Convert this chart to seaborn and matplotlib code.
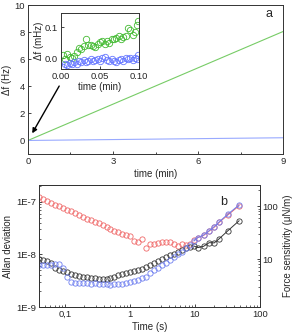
import matplotlib
matplotlib.use("Agg")
import matplotlib.pyplot as plt
from matplotlib.ticker import FixedLocator, NullFormatter, LogLocator
import seaborn as sns
import numpy as np
import pandas as pd

# panel a: frequency shift vs time (min)
drift_time = [0.0, 9.0]
drift_green = [0.0, 8.05]
drift_blue = [0.0, 0.2]

# inset: first 0.1 min, in mHz
inset_t = [0.002, 0.005, 0.008, 0.011, 0.014, 0.017, 0.020, 0.023, 0.026, 0.029,
           0.032, 0.035, 0.038, 0.041, 0.044, 0.047, 0.050, 0.053, 0.056, 0.059,
           0.062, 0.065, 0.068, 0.071, 0.074, 0.077, 0.080, 0.083, 0.086, 0.089,
           0.092, 0.095, 0.097, 0.099]
inset_green = [0.010, -0.002, 0.012, 0.004, 0.000, 0.008, 0.020, 0.032, 0.028, 0.040,
               0.060, 0.043, 0.042, 0.040, 0.036, 0.045, 0.052, 0.055, 0.046, 0.055,
               0.050, 0.060, 0.062, 0.065, 0.070, 0.060, 0.068, 0.072, 0.098, 0.090,
               0.075, 0.085, 0.105, 0.118]
inset_blue = [-0.030, -0.018, -0.022, -0.015, -0.020, -0.012, -0.018, -0.010, -0.014, -0.006,
              -0.012, -0.008, -0.004, -0.010, -0.006, -0.002, -0.008, -0.001, 0.004, -0.006,
              -0.010, -0.004, -0.008, -0.012, -0.006, -0.004, -0.008, 0.000, -0.004, 0.002,
              -0.006, 0.002, -0.002, 0.010]

# panel b: Allan deviation vs tau (s)
tau = [0.040, 0.046, 0.053, 0.061, 0.070, 0.081, 0.093, 0.107, 0.123, 0.142,
       0.163, 0.188, 0.216, 0.249, 0.287, 0.330, 0.380, 0.437, 0.503, 0.579,
       0.667, 0.767, 0.883, 1.02, 1.17, 1.35, 1.55, 1.78, 2.05, 2.36,
       2.72, 3.13, 3.60, 4.15, 4.77, 5.49, 6.32, 7.28, 8.38, 9.64,
       11.1, 13.6, 16.6, 19.8, 23.7, 31.8, 47.9]
adev_red = [1.25e-7, 1.15e-7, 1.05e-7, 9.6e-8, 8.8e-8, 8.2e-8, 7.6e-8, 7.0e-8, 6.6e-8, 6.1e-8,
            5.6e-8, 5.2e-8, 4.8e-8, 4.5e-8, 4.2e-8, 3.9e-8, 3.6e-8, 3.4e-8, 3.1e-8, 2.8e-8,
            2.7e-8, 2.5e-8, 2.4e-8, 2.2e-8, 1.8e-8, 1.75e-8, 2.0e-8, 1.35e-8, 1.6e-8, 1.55e-8,
            1.65e-8, 1.7e-8, 1.75e-8, 1.7e-8, 1.55e-8, 1.45e-8, 1.6e-8, 1.5e-8, 1.55e-8, 1.85e-8,
            2.1e-8, 2.3e-8, 2.8e-8, 3.3e-8, 4.1e-8, 5.6e-8, 8.5e-8]
adev_blue = [6.3e-9, 6.3e-9, 6.2e-9, 6.3e-9, 6.5e-9, 6.6e-9, 5.5e-9, 3.8e-9, 3.0e-9, 2.9e-9,
             2.9e-9, 2.85e-9, 2.9e-9, 2.8e-9, 2.85e-9, 2.75e-9, 2.7e-9, 2.75e-9, 2.65e-9, 2.7e-9,
             2.75e-9, 2.8e-9, 2.9e-9, 3.0e-9, 3.1e-9, 3.3e-9, 3.5e-9, 3.8e-9, 4.4e-9, 5.0e-9,
             5.5e-9, 6.2e-9, 6.9e-9, 7.8e-9, 8.8e-9, 1.0e-8, 1.12e-8, 1.3e-8, 1.5e-8, 1.8e-8,
             2.1e-8, 2.35e-8, 2.85e-8, 3.4e-8, 4.2e-8, 5.8e-8, 8.8e-8]
adev_black = [8.3e-9, 7.7e-9, 7.5e-9, 7.0e-9, 5.6e-9, 5.1e-9, 4.8e-9, 4.6e-9, 4.3e-9, 4.1e-9,
              3.9e-9, 3.8e-9, 3.7e-9, 3.6e-9, 3.5e-9, 3.4e-9, 3.4e-9, 3.45e-9, 3.6e-9, 3.8e-9,
              4.0e-9, 4.2e-9, 4.4e-9, 4.6e-9, 4.8e-9, 5.1e-9, 5.4e-9, 5.8e-9, 6.4e-9, 6.9e-9,
              7.4e-9, 8.2e-9, 8.9e-9, 9.6e-9, 1.03e-8, 1.12e-8, 1.23e-8, 1.3e-8, 1.38e-8, 1.45e-8,
              1.35e-8, 1.43e-8, 1.68e-8, 1.66e-8, 2.0e-8, 2.8e-8, 4.4e-8]

sns.set_style("ticks")
plt.rcParams['font.family'] = ['Liberation Sans', 'DejaVu Sans']
plt.rcParams['xtick.direction'] = 'in'
plt.rcParams['ytick.direction'] = 'in'
plt.rcParams['xtick.labelsize'] = 6.8
plt.rcParams['ytick.labelsize'] = 6.8
plt.rcParams['axes.labelsize'] = 7
plt.rcParams['axes.linewidth'] = 0.7
plt.rcParams['axes.edgecolor'] = '#333333'

fig = plt.figure(figsize=(2.99, 3.36), dpi=100)

# ---- panel a ----
ax1 = fig.add_axes([0.0936, 0.5417, 0.853, 0.443])
sns.lineplot(x=drift_time, y=drift_green, ax=ax1, color='#77cc66', lw=0.8)
sns.lineplot(x=drift_time, y=drift_blue, ax=ax1, color='#99aaff', lw=0.8)
ax1.set_xlim(0, 9)
ax1.set_ylim(-1, 10)
ax1.set_xticks([0, 3, 6, 9])
ax1.xaxis.set_minor_locator(FixedLocator([1.5, 4.5, 7.5]))
ax1.set_yticks([0, 2, 4, 6, 8, 10])
ax1.tick_params(length=2.5, width=0.6, pad=2)
ax1.tick_params(which='minor', length=1.5, width=0.6)
ax1.set_xlabel("time (min)", labelpad=2)
ax1.set_ylabel("\u0394f (Hz)", labelpad=2)
ax1.text(0.93, 0.92, "a", transform=ax1.transAxes, fontsize=9)
ax1.annotate("", xy=(0.1, 0.35), xytext=(1.15, 4.2),
             arrowprops=dict(arrowstyle='-|>', color='black', lw=1.0,
                             mutation_scale=7))

# inset
axi = fig.add_axes([0.204, 0.7946, 0.261, 0.1667])
sns.lineplot(x=inset_t, y=inset_green, ax=axi, color='#44bb33', linestyle='',
             marker='o', markersize=4.6, markerfacecolor='none',
             markeredgecolor='#44bb33', markeredgewidth=0.6, estimator=None)
sns.lineplot(x=inset_t, y=inset_blue, ax=axi, color='#6677ff', linestyle='',
             marker='o', markersize=4.6, markerfacecolor='none',
             markeredgecolor='#6677ff', markeredgewidth=0.6, estimator=None)
axi.set_xlim(0, 0.1)
axi.set_ylim(-0.035, 0.145)
axi.set_xticks([0.0, 0.05, 0.10])
axi.set_xticklabels(["0.00", "0.05", "0.10"])
axi.set_yticks([0.0, 0.1])
axi.set_yticklabels(["0.0", "0.1"])
axi.tick_params(length=2, width=0.6, pad=2)
axi.set_xlabel("time (min)", labelpad=1)
axi.set_ylabel("\u0394f (mHz)", labelpad=1)

# ---- panel b ----
ax2 = fig.add_axes([0.1304, 0.0863, 0.739, 0.363])
ax2.set_xscale('log')
ax2.set_yscale('log')
df = pd.DataFrame({'tau': tau, 'red': adev_red, 'blue': adev_blue, 'black': adev_black})
tail = df[df['tau'] >= 9.0]
colors = {'red': '#f06868', 'black': '#333333', 'blue': '#6e7ef0'}
for key in ['red', 'black', 'blue']:
    sns.lineplot(data=tail, x='tau', y=key, ax=ax2, color=colors[key], lw=0.7,
                 estimator=None)
    sns.lineplot(data=df, x='tau', y=key, ax=ax2, color=colors[key], linestyle='',
                 marker='o', markersize=3.8, markerfacecolor='none',
                 markeredgecolor=colors[key], markeredgewidth=0.6, estimator=None)
ax2.set_xlim(0.04, 100)
ax2.set_ylim(1e-9, 2.1e-7)
ax2.set_xticks([0.1, 1, 10, 100])
ax2.set_xticklabels(["0,1", "1", "10", "100"])
ax2.set_yticks([1e-9, 1e-8, 1e-7])
ax2.set_yticklabels(["1E-9", "1E-8", "1E-7"])
ax2.xaxis.set_minor_locator(LogLocator(base=10, subs=np.arange(2, 10), numticks=20))
ax2.xaxis.set_minor_formatter(NullFormatter())
ax2.yaxis.set_minor_locator(LogLocator(base=10, subs=np.arange(2, 10), numticks=20))
ax2.yaxis.set_minor_formatter(NullFormatter())
ax2.tick_params(length=2.5, width=0.6, pad=2)
ax2.tick_params(which='minor', length=1.5, width=0.5)
ax2.set_xlabel("Time (s)", labelpad=2)
ax2.set_ylabel("Allan deviation", labelpad=2)
ax2.text(0.82, 0.84, "b", transform=ax2.transAxes, fontsize=9)

ax3 = ax2.twinx()
ax3.set_yscale('log')
ax3.set_ylim(1.24, 250)
ax3.set_yticks([10, 100])
ax3.set_yticklabels(["10", "100"])
ax3.yaxis.set_minor_locator(LogLocator(base=10, subs=np.arange(2, 10), numticks=20))
ax3.yaxis.set_minor_formatter(NullFormatter())
ax3.tick_params(length=2.5, width=0.6, pad=2)
ax3.tick_params(which='minor', length=1.5, width=0.5)
ax3.set_ylabel("Force sensitivity (\u03bcN/m)", labelpad=3)

fig.savefig("out.png", dpi=100)
